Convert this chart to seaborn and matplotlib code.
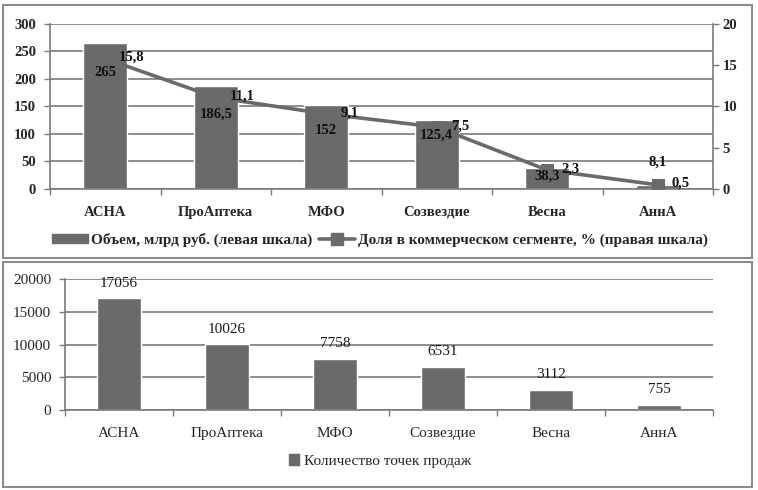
import matplotlib
matplotlib.use("Agg")
import matplotlib.pyplot as plt
import seaborn as sns
import pandas as pd
from matplotlib.patches import Rectangle, Patch
from matplotlib.lines import Line2D

categories = ["АСНА", "ПроАптека", "МФО", "Созвездие", "Весна", "АннА"]
volume = [265, 186.5, 152, 125.4, 38.3, 8.1]
volume_labels = ["265", "186,5", "152", "125,4", "38,3", "8,1"]
share = [15.8, 11.1, 9.1, 7.5, 2.3, 0.5]
share_labels = ["15,8", "11,1", "9,1", "7,5", "2,3", "0,5"]
points = [17056, 10026, 7758, 6531, 3112, 755]
points_labels = ["17056", "10026", "7758", "6531", "3112", "755"]

legend_top_bar = "Объем, млрд руб. (левая шкала)"
legend_top_line = "Доля в коммерческом сегменте, % (правая шкала)"
legend_bottom = "Количество точек продаж"

left_ticks = [0, 50, 100, 150, 200, 250, 300]
right_ticks = [0, 5, 10, 15, 20]
bottom_ticks = [0, 5000, 10000, 15000, 20000]

sns.set_theme(style="white")
plt.rcParams["font.family"] = ["Liberation Serif", "DejaVu Serif"]

BAR = "#6a6a6a"
GRID = "#7a7a7a"
W, H = 758, 490
fig = plt.figure(figsize=(W / 100, H / 100), dpi=100)

def fx(px):
    return px / W

def fy(py):
    return 1 - py / H

# panel borders
for (x0, y0, x1, y1) in [(3, 5, 752, 258), (3, 262, 752, 487)]:
    fig.patches.append(Rectangle((fx(x0), fy(y1)), fx(x1 - x0), (y1 - y0) / H,
                                 transform=fig.transFigure, fill=False,
                                 edgecolor="#8c8c8c", linewidth=1.5))

df_top = pd.DataFrame({"cat": categories, "vol": volume, "share": share})
df_bot = pd.DataFrame({"cat": categories, "pts": points})

def style_axis(ax, ticks, fs, weight):
    ax.set_ylim(ticks[0], ticks[-1])
    ax.set_yticks(ticks)
    ax.set_xlim(-0.5, len(categories) - 0.5)
    ax.set_xlabel("")
    ax.set_ylabel("")
    for s in ["top", "right"]:
        ax.spines[s].set_visible(False)
    ax.spines["left"].set_color(GRID)
    ax.spines["bottom"].set_color(GRID)
    ax.spines["left"].set_linewidth(1.2)
    ax.spines["bottom"].set_linewidth(1.2)
    ax.yaxis.grid(True, color=GRID, linewidth=1.2)
    ax.set_axisbelow(True)
    ax.tick_params(axis="y", which="major", length=4, width=1, color=GRID,
                   left=True, labelsize=fs, pad=6)
    ax.tick_params(axis="x", which="major", length=0, labelsize=fs, pad=12)
    ax.set_xticks(range(len(categories)))
    ax.set_xticks([i - 0.5 for i in range(len(categories) + 1)], minor=True)
    ax.tick_params(axis="x", which="minor", length=4, width=1, color=GRID, bottom=True)
    for lab in ax.get_xticklabels() + ax.get_yticklabels():
        lab.set_fontweight(weight)

# ---------- top chart ----------
ax = fig.add_axes([fx(50), fy(189), fx(713 - 50), (189 - 24) / H])
sns.barplot(data=df_top, x="cat", y="vol", color=BAR, saturation=1, width=0.4, ax=ax)
style_axis(ax, left_ticks, 10.5, "bold")

ax2 = ax.twinx()
sns.lineplot(x=list(range(len(categories))), y=share, ax=ax2, color=BAR,
             linewidth=2.6, marker="s", markersize=8.5, markeredgecolor=BAR,
             markerfacecolor=BAR)
ax2.set_ylim(right_ticks[0], right_ticks[-1])
ax2.set_yticks(right_ticks)
ax2.set_ylabel("")
for s in ["top", "left", "bottom"]:
    ax2.spines[s].set_visible(False)
ax2.spines["right"].set_color(GRID)
ax2.spines["right"].set_linewidth(1.2)
ax2.tick_params(axis="y", right=True, length=4, width=1, color=GRID, labelsize=10.5, pad=3)
for lab in ax2.get_yticklabels():
    lab.set_fontweight("bold")

# bar value labels (offsets in points relative to bar top), drawn above the line
bar_offsets = [-21, -20, -18, -11, -6, 16]
for i, (v, t) in enumerate(zip(volume, volume_labels)):
    ax2.annotate(t, (i, v), xycoords=ax.transData, xytext=(0, bar_offsets[i]),
                 textcoords="offset points", ha="center", va="center",
                 fontsize=10.5, fontweight="bold", color="#111111", zorder=5)
for i, (v, t) in enumerate(zip(share, share_labels)):
    ax2.annotate(t, (i, v), xytext=(10, 1), textcoords="offset points",
                 ha="left", va="center", fontsize=10.5, fontweight="bold",
                 color="#111111", zorder=5)

h1 = Patch(facecolor=BAR, edgecolor=BAR)
h2 = Line2D([0], [0], color=BAR, linewidth=2.6, marker="s", markersize=8.5)
fig.legend([h1, h2], [legend_top_bar, legend_top_line], loc="center",
           bbox_to_anchor=(fx(380), fy(240)), ncol=2, frameon=False,
           prop={"family": "Liberation Serif", "weight": "bold", "size": 11},
           handlelength=2.4, handleheight=0.6, handletextpad=0.2, columnspacing=0.4)

# ---------- bottom chart ----------
axb = fig.add_axes([fx(65), fy(410), fx(713 - 65), (410 - 279) / H])
sns.barplot(data=df_bot, x="cat", y="pts", color=BAR, saturation=1, width=0.4, ax=axb)
style_axis(axb, bottom_ticks, 11, "normal")
for i, (v, t) in enumerate(zip(points, points_labels)):
    axb.annotate(t, (i, v), xytext=(0, 11), textcoords="offset points",
                 ha="center", va="center", fontsize=11, color="#1a1a1a")

fig.legend([Patch(facecolor=BAR, edgecolor=BAR)], [legend_bottom], loc="center",
           bbox_to_anchor=(fx(380), fy(461)), frameon=False,
           prop={"family": "Liberation Serif", "size": 11},
           handlelength=0.7, handleheight=0.7, handletextpad=0.3)

fig.savefig("out.png", dpi=100)
